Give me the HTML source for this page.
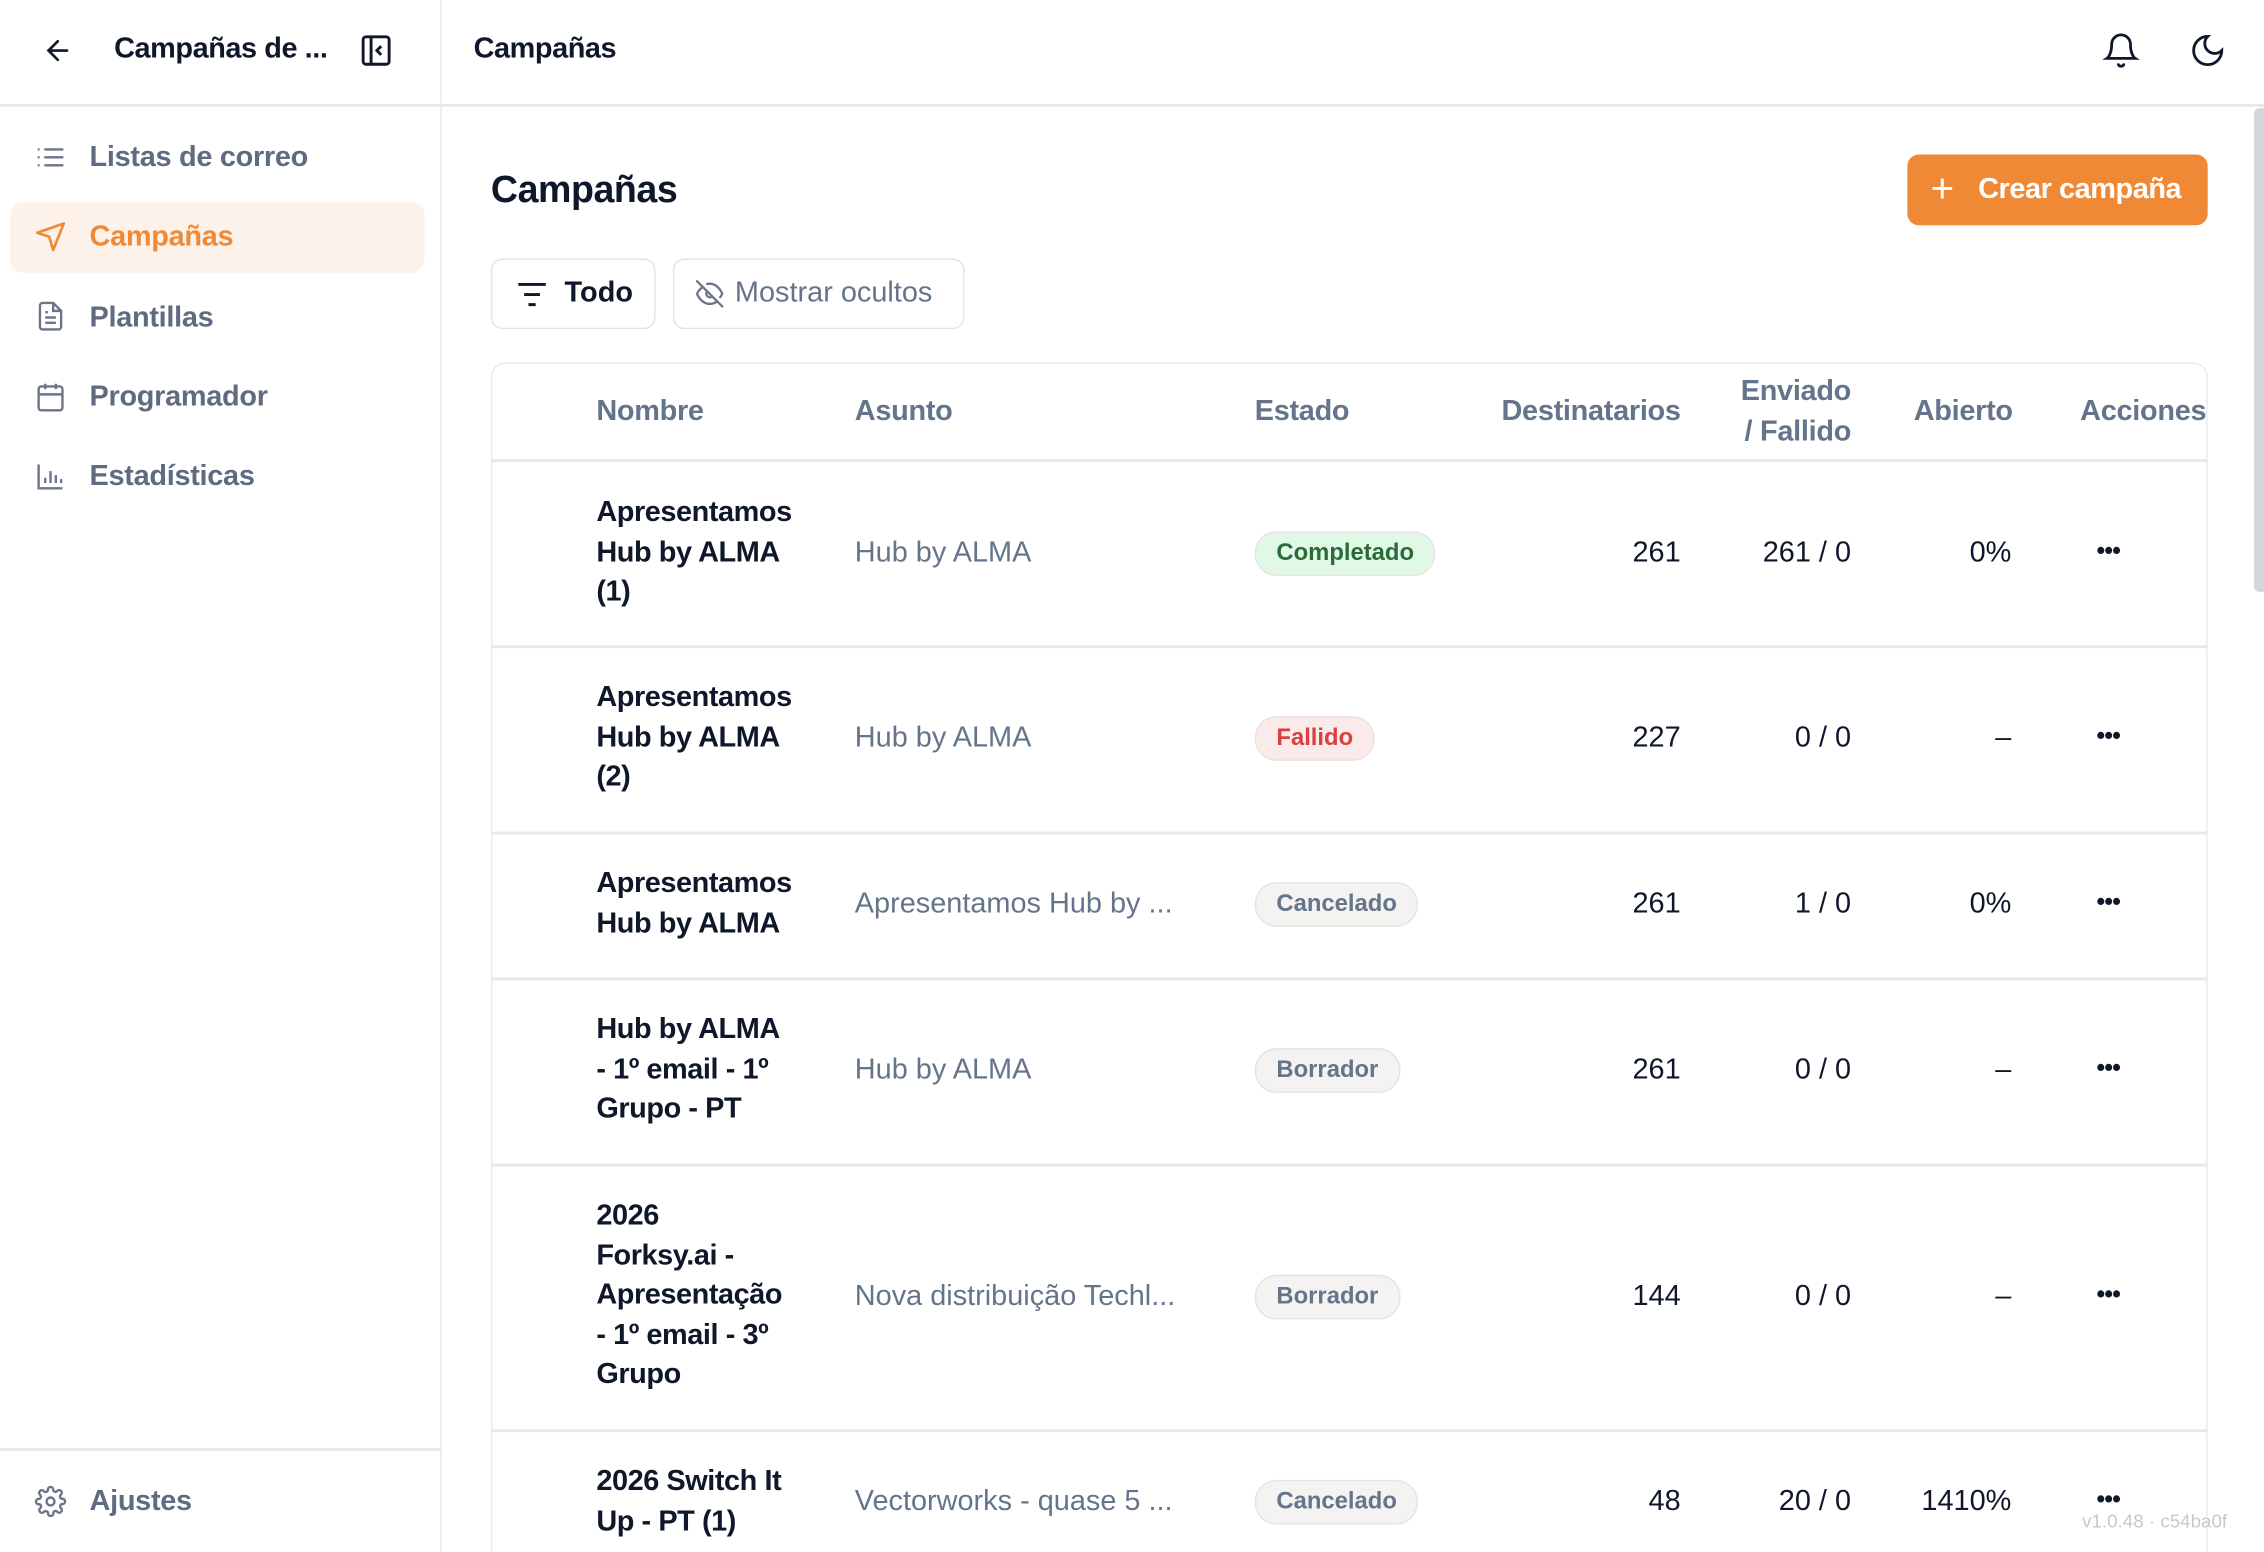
<!DOCTYPE html>
<html><head><meta charset="utf-8"><style>
html,body{margin:0;padding:0;width:2264px;height:1552px;overflow:hidden;background:#fff}
#w{position:absolute;left:0;top:0;width:1568px;height:1075px;overflow:hidden;transform:scale(1.44388,1.44372);transform-origin:0 0;font-family:"Liberation Sans",sans-serif;color:#0f172a}
.a{position:absolute;white-space:nowrap}
.l{position:absolute;background:#ebe7e3}
.nav{position:absolute;left:62px;font-size:20px;color:#5f6b80;font-weight:bold;line-height:28px;letter-spacing:-0.2px}
.ic{position:absolute;left:24px}
.h{position:absolute;font-size:20px;color:#64748b;font-weight:bold;line-height:28px;white-space:nowrap;letter-spacing:-0.2px}
.n{position:absolute;left:413px;font-size:20px;font-weight:bold;line-height:27.5px;color:#0f172a;letter-spacing:-0.3px}
.s{position:absolute;left:592px;font-size:20px;color:#64748b;line-height:28px;white-space:nowrap}
.b{position:absolute;left:869px;border:1.5px solid #e8e3dd;border-radius:15px;padding:0 14px;font-size:16.5px;font-weight:bold;box-sizing:border-box;height:31px;line-height:28px}
.num{position:absolute;font-size:20px;line-height:28px;text-align:right;white-space:nowrap}
.d{position:absolute;left:1452px;font-size:17px;font-weight:bold;line-height:28px;letter-spacing:-0.5px}
</style></head><body><div id="w">
<div class="l" style="left:305px;top:0;width:1px;height:1075px"></div>
<div class="l" style="left:0;top:72px;width:1568px;height:1.5px"></div>
<div class="l" style="left:0;top:1003px;width:305px;height:1.5px"></div>
<svg class="a" style="left:29px;top:24px" width="22" height="22" viewBox="0 0 24 24" fill="none" stroke="#0f172a" stroke-width="2" stroke-linecap="round"><path d="M19 12H5M12 19l-7-7 7-7"/></svg>
<div class="a" style="left:79px;top:20px;font-size:20px;font-weight:bold;line-height:28px;letter-spacing:-0.3px">Campañas de ...</div>
<svg class="a" style="left:250px;top:24px" width="21" height="22" viewBox="0 0 21 22" fill="none" stroke="#0f172a" stroke-width="2"><rect x="1.5" y="1.5" width="18" height="19" rx="2"/><path d="M7 2v18M14 8l-3 3 3 3"/></svg>
<div class="a" style="left:328px;top:20px;font-size:20px;font-weight:bold;line-height:28px;letter-spacing:-0.3px">Campañas</div>
<svg class="a" style="left:1456px;top:22px" width="26" height="26" viewBox="0 0 24 24" fill="none" stroke="#0f172a" stroke-width="1.8" stroke-linecap="round"><path d="M6 8a6 6 0 0 1 12 0c0 7 3 9 3 9H3s3-2 3-9M10.3 21a1.9 1.9 0 0 0 3.4 0"/></svg>
<svg class="a" style="left:1516px;top:22px" width="26" height="26" viewBox="0 0 24 24" fill="none" stroke="#0f172a" stroke-width="1.8"><path d="M12 3a6 6 0 0 0 9 9 9 9 0 1 1-9-9z"/></svg>

<svg class="ic" style="top:98px" width="22" height="22" viewBox="0 0 24 24" fill="none" stroke="#6b7488" stroke-width="1.8" stroke-linecap="round"><path d="M8 6h13M8 12h13M8 18h13M3 6h.01M3 12h.01M3 18h.01"/></svg>
<div class="nav" style="top:95px">Listas de correo</div>
<div class="a" style="left:7px;top:140px;width:287px;height:49px;background:#fdf2ea;border-radius:9px"></div>
<svg class="ic" style="top:153px" width="22" height="22" viewBox="0 0 24 24" fill="none" stroke="#ef8936" stroke-width="2" stroke-linejoin="round"><path d="M22 2L2 9l9 3 3 10z"/></svg>
<div class="nav" style="top:150px;color:#ef8936">Campañas</div>
<svg class="ic" style="top:208px" width="22" height="22" viewBox="0 0 24 24" fill="none" stroke="#6b7488" stroke-width="1.8"><path d="M14 2H6a2 2 0 0 0-2 2v16a2 2 0 0 0 2 2h12a2 2 0 0 0 2-2V8zM14 2v6h6M8 13h8M8 17h8M8 9h2"/></svg>
<div class="nav" style="top:206px">Plantillas</div>
<svg class="ic" style="top:264px" width="22" height="22" viewBox="0 0 24 24" fill="none" stroke="#6b7488" stroke-width="1.8"><rect x="3" y="4" width="18" height="18" rx="2"/><path d="M16 2v4M8 2v4M3 10h18"/></svg>
<div class="nav" style="top:261px">Programador</div>
<svg class="ic" style="top:319px" width="22" height="22" viewBox="0 0 24 24" fill="none" stroke="#6b7488" stroke-width="1.8"><path d="M3 3v18h18M8 17v-4M12 17V8M16 17v-6M20 17v-3"/></svg>
<div class="nav" style="top:316px">Estadísticas</div>
<svg class="ic" style="top:1029px" width="22" height="22" viewBox="0 0 24 24" fill="none" stroke="#6b7488" stroke-width="1.8"><circle cx="12" cy="12" r="3"/><path d="M19.4 15a1.7 1.7 0 0 0 .3 1.8l.1.1a2 2 0 1 1-2.8 2.8l-.1-.1a1.7 1.7 0 0 0-1.8-.3 1.7 1.7 0 0 0-1 1.5V21a2 2 0 1 1-4 0v-.1a1.7 1.7 0 0 0-1.1-1.5 1.7 1.7 0 0 0-1.8.3l-.1.1a2 2 0 1 1-2.8-2.8l.1-.1a1.7 1.7 0 0 0 .3-1.8 1.7 1.7 0 0 0-1.5-1H3a2 2 0 1 1 0-4h.1a1.7 1.7 0 0 0 1.5-1.1 1.7 1.7 0 0 0-.3-1.8l-.1-.1a2 2 0 1 1 2.8-2.8l.1.1a1.7 1.7 0 0 0 1.8.3H9a1.7 1.7 0 0 0 1-1.5V3a2 2 0 1 1 4 0v.1a1.7 1.7 0 0 0 1 1.5 1.7 1.7 0 0 0 1.8-.3l.1-.1a2 2 0 1 1 2.8 2.8l-.1.1a1.7 1.7 0 0 0-.3 1.8V9a1.7 1.7 0 0 0 1.5 1H21a2 2 0 1 1 0 4h-.1a1.7 1.7 0 0 0-1.5 1z"/></svg>
<div class="nav" style="top:1026px">Ajustes</div>

<div class="a" style="left:340px;top:115px;font-size:26px;font-weight:bold;line-height:32px;letter-spacing:-0.3px">Campañas</div>
<div class="a" style="left:1321px;top:107px;width:208px;height:49px;background:#ef8936;border-radius:8px;color:#fff;font-size:20px;font-weight:bold;line-height:49px"><span style="position:absolute;left:16px;top:-1px;font-size:28px;font-weight:normal">+</span><span style="position:absolute;left:49px;letter-spacing:-0.3px">Crear campaña</span></div>
<div class="a" style="left:340px;top:179px;width:114px;height:49px;border:1.5px solid #e8e3dd;border-radius:8px;box-sizing:border-box"></div>
<svg class="a" style="left:358px;top:194px" width="21" height="20" viewBox="0 0 21 20" stroke="#0f172a" stroke-width="2"><path d="M1 3h19M5 10h11M8 17h5"/></svg>
<div class="a" style="left:391px;top:189px;font-size:20px;font-weight:bold;line-height:28px">Todo</div>
<div class="a" style="left:466px;top:179px;width:202px;height:49px;border:1.5px solid #e8e3dd;border-radius:8px;box-sizing:border-box"></div>
<svg class="a" style="left:481px;top:193px" width="21" height="21" viewBox="0 0 24 24" fill="none" stroke="#6b7488" stroke-width="1.8" stroke-linecap="round"><path d="M9.9 4.2A9 9 0 0 1 12 4c7 0 10 8 10 8a13 13 0 0 1-1.7 2.7M6.6 6.6A13.5 13.5 0 0 0 2 12s3 8 10 8a9.7 9.7 0 0 0 5.4-1.6M14.1 14.2a3 3 0 0 1-4.2-4.2M2 2l20 20"/></svg>
<div class="a" style="left:509px;top:189px;font-size:20px;color:#64748b;line-height:28px">Mostrar ocultos</div>

<div class="a" style="left:340px;top:251px;width:1189px;height:826px;border:1.5px solid #ebe7e3;border-bottom:none;border-radius:10px 10px 0 0;box-sizing:border-box"></div>
<div class="l" style="left:340px;top:318px;width:1189px;height:1.5px"></div>
<div class="l" style="left:340px;top:447px;width:1189px;height:1.5px"></div>
<div class="l" style="left:340px;top:576px;width:1189px;height:1.5px"></div>
<div class="l" style="left:340px;top:677px;width:1189px;height:1.5px"></div>
<div class="l" style="left:340px;top:806px;width:1189px;height:1.5px"></div>
<div class="l" style="left:340px;top:990px;width:1189px;height:1.5px"></div>

<div class="h" style="left:413px;top:271px">Nombre</div>
<div class="h" style="left:592px;top:271px">Asunto</div>
<div class="h" style="left:869px;top:271px">Estado</div>
<div class="h" style="right:404px;top:271px">Destinatarios</div>
<div class="h" style="right:286px;top:257px;text-align:right">Enviado<br>/ Fallido</div>
<div class="h" style="right:174px;top:271px">Abierto</div>
<div class="h" style="right:40px;top:271px">Acciones</div>

<div class="n" style="top:342px">Apresentamos<br>Hub by ALMA<br>(1)</div>
<div class="s" style="top:369px">Hub by ALMA</div>
<div class="b" style="top:368px;background:#e1f8e6;color:#2a6b3a">Completado</div>
<div class="num" style="right:404px;top:369px">261</div>
<div class="num" style="right:286px;top:369px">261 / 0</div>
<div class="num" style="right:175px;top:369px">0%</div>
<div class="d" style="top:368px">•••</div>

<div class="n" style="top:470px">Apresentamos<br>Hub by ALMA<br>(2)</div>
<div class="s" style="top:497px">Hub by ALMA</div>
<div class="b" style="top:496px;background:#fbeaea;color:#d9403f">Fallido</div>
<div class="num" style="right:404px;top:497px">227</div>
<div class="num" style="right:286px;top:497px">0 / 0</div>
<div class="num" style="right:175px;top:497px">–</div>
<div class="d" style="top:496px">•••</div>

<div class="n" style="top:599px">Apresentamos<br>Hub by ALMA</div>
<div class="s" style="top:612px">Apresentamos Hub by ...</div>
<div class="b" style="top:611px;background:#f5f3f1;color:#64748b">Cancelado</div>
<div class="num" style="right:404px;top:612px">261</div>
<div class="num" style="right:286px;top:612px">1 / 0</div>
<div class="num" style="right:175px;top:612px">0%</div>
<div class="d" style="top:611px">•••</div>

<div class="n" style="top:700px">Hub by ALMA<br>- 1º email - 1º<br>Grupo - PT</div>
<div class="s" style="top:727px">Hub by ALMA</div>
<div class="b" style="top:726px;background:#f5f3f1;color:#64748b">Borrador</div>
<div class="num" style="right:404px;top:727px">261</div>
<div class="num" style="right:286px;top:727px">0 / 0</div>
<div class="num" style="right:175px;top:727px">–</div>
<div class="d" style="top:726px">•••</div>

<div class="n" style="top:829px">2026<br>Forksy.ai -<br>Apresentação<br>- 1º email - 3º<br>Grupo</div>
<div class="s" style="top:884px">Nova distribuição Techl...</div>
<div class="b" style="top:883px;background:#f5f3f1;color:#64748b">Borrador</div>
<div class="num" style="right:404px;top:884px">144</div>
<div class="num" style="right:286px;top:884px">0 / 0</div>
<div class="num" style="right:175px;top:884px">–</div>
<div class="d" style="top:883px">•••</div>

<div class="n" style="top:1013px">2026 Switch It<br>Up - PT (1)</div>
<div class="s" style="top:1026px">Vectorworks - quase 5 ...</div>
<div class="b" style="top:1025px;background:#f5f3f1;color:#64748b">Cancelado</div>
<div class="num" style="right:404px;top:1026px">48</div>
<div class="num" style="right:286px;top:1026px">20 / 0</div>
<div class="num" style="right:175px;top:1026px">1410%</div>
<div class="d" style="top:1025px">•••</div>

<div class="a" style="left:1442px;top:1046px;font-size:13px;color:#c4c8d0">v1.0.48 · c54ba0f</div>
<div class="a" style="left:1561px;top:75px;width:7px;height:335px;background:#d4d6dc;border-radius:4px 0 0 4px"></div>
</div></body></html>
